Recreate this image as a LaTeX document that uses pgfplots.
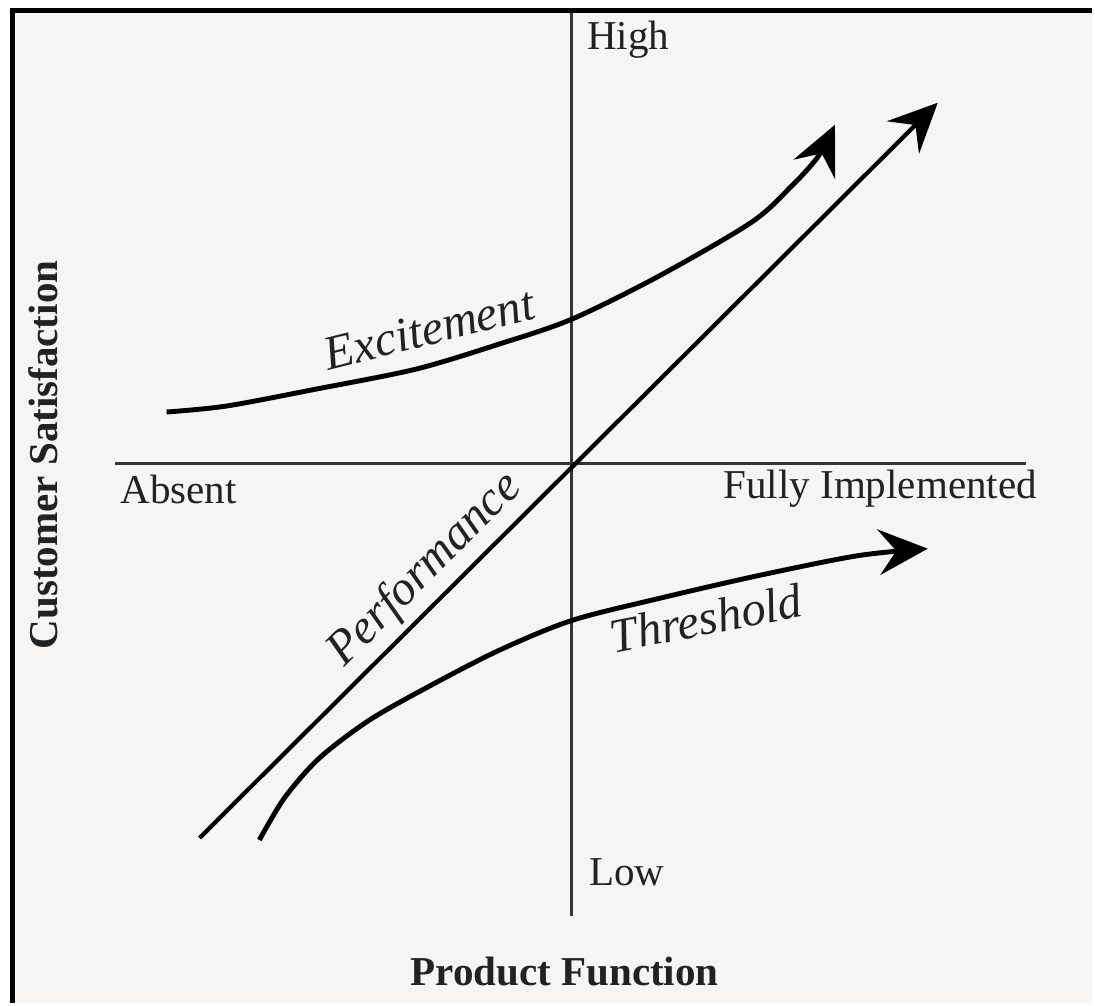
\documentclass[border=0pt]{standalone}
\usepackage{pgfplots}
\pgfplotsset{compat=1.18}
\usepackage{fontspec}
\setmainfont{Liberation Serif}
\usetikzlibrary{arrows.meta}
\definecolor{bg}{HTML}{F6F5F3}
\definecolor{axc}{HTML}{353535}
\definecolor{txt}{HTML}{222222}
\begin{document}
\begin{tikzpicture}
\begin{axis}[
  width=10.95cm, height=10.05cm, scale only axis,
  xmin=0, xmax=1095, ymin=0, ymax=1005, y dir=reverse,
  hide axis, clip=false,
]
% background and frame
\fill[white] (rel axis cs:0,0) rectangle (rel axis cs:1,1);
\fill[bg] (axis cs:10,8) rectangle (axis cs:1095,1005);
\draw[black, line width=1.5pt] (axis cs:12.5,1005) -- (axis cs:12.5,10.5) -- (axis cs:1095,10.5);
% axes
\addplot[axc, line width=0.85pt] coordinates {(573,13) (573,918)};
\addplot[axc, line width=0.85pt] coordinates {(115,465) (1028,465)};
% performance
\addplot[black, line width=1.2pt, -{Stealth[length=14pt, width=13pt, inset=5pt]}] coordinates {(200,840) (940,103)};
% excitement
\addplot[black, line width=1.4pt, smooth, -{Stealth[length=14pt, width=13pt, inset=5pt]}] coordinates {
(167,413) (227,407) (317,390) (417,370) (500,345) (573,320) (660,277) (753,223) (793,187) (820,157) (837,125)};
% threshold
\addplot[black, line width=1.4pt, smooth, -{Stealth[length=14pt, width=13pt, inset=5pt]}] coordinates {
(260,842) (285,800) (320,760) (370,722) (430,688) (500,652) (573,622) (660,600) (760,577) (860,557) (930,550)};
% labels
\node[txt, anchor=base west, inner sep=0pt, font=\fontsize{11.7}{14}\selectfont] at (axis cs:588,50) {High};
\node[txt, anchor=base west, inner sep=0pt, font=\fontsize{11.7}{14}\selectfont] at (axis cs:590,888) {Low};
\node[txt, anchor=base west, font=\fontsize{11.7}{14}\selectfont, inner sep=0pt] at (axis cs:120,505) {Absent};
\node[txt, anchor=base east, font=\fontsize{11.7}{14}\selectfont, inner sep=0pt] at (axis cs:1040,500) {Fully Implemented};
\node[txt, anchor=base, font=\bfseries\fontsize{11.7}{14}\selectfont, inner sep=0pt] at (axis cs:566,988) {Product Function};
\node[txt, anchor=base, rotate=90, font=\bfseries\fontsize{11.7}{14}\selectfont, inner sep=0pt] at (axis cs:58,456) {Customer Satisfaction};
\node[txt, anchor=base, rotate=14, font=\itshape\fontsize{13.8}{16}\selectfont, inner sep=0pt] at (axis cs:434,345) {Excitement};
\node[txt, anchor=base, rotate=45, font=\itshape\fontsize{13.8}{16}\selectfont, inner sep=0pt] at (axis cs:435,580) {Performance};
\node[txt, anchor=base, rotate=11, font=\itshape\fontsize{13.8}{16}\selectfont, inner sep=0pt] at (axis cs:711,636) {Threshold};
\end{axis}
\end{tikzpicture}
\end{document}
